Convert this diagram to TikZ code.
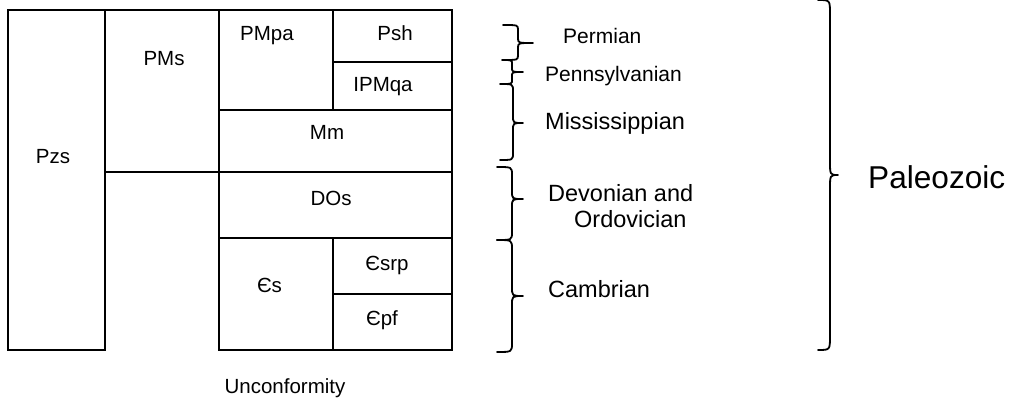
\documentclass[tikz,border=0pt]{standalone}
\usepackage{fontspec}
\setmainfont{Liberation Sans}
\tikzset{
  cellline/.style={line width=2.1pt, line join=miter},
  braceline/.style={line width=1.8pt, line cap=round, line join=round},
  celltext/.style={inner sep=0pt, anchor=base, font=\fontsize{20.5}{24}\selectfont},
  periodsmall/.style={inner sep=0pt, anchor=base west, font=\fontsize{21}{25}\selectfont},
  periodlarge/.style={inner sep=0pt, anchor=base west, font=\fontsize{23.5}{28}\selectfont},
  eratext/.style={inner sep=0pt, anchor=base west, font=\fontsize{31.6}{36}\selectfont},
}
% right-facing curly brace: #1 x of the ends, #2 top y, #3 bottom y,
% #4 y of the tip, #5 x of the spine, #6 x of the tip, #7 curl radius
\newcommand\curlyright[7]{%
  \draw[braceline] (#1,#2) .. controls (#5,#2) .. (#5,{#2+#7})
    -- (#5,{#4-#7}) .. controls (#5,#4) .. (#6,#4)
    .. controls (#5,#4) .. (#5,{#4+#7})
    -- (#5,{#3-#7}) .. controls (#5,#3) .. (#1,#3);}
\begin{document}
\begin{tikzpicture}[x=1pt, y=-1pt]
\useasboundingbox (0,0) rectangle (1013,401);

% stratigraphic column
\draw[cellline] (8,10) rectangle (105,350);
\draw[cellline] (105,10) rectangle (219,172);
\draw[cellline] (219,10) rectangle (333,110);
\draw[cellline] (333,10) rectangle (452,62);
\draw[cellline] (333,62) rectangle (452,110);
\draw[cellline] (219,110) rectangle (452,172);
\draw[cellline] (219,172) rectangle (452,238);
\draw[cellline] (219,238) rectangle (333,350);
\draw[cellline] (333,238) rectangle (452,294);
\draw[cellline] (333,294) rectangle (452,350);

\node[celltext] (pzs)   at (53,164)  {Pzs};
\node[celltext] (pms)   at (164,66)  {PMs};
\node[celltext] (pmpa)  at (267,41)  {PMpa};
\node[celltext] (psh)   at (395,41)  {Psh};
\node[celltext] (ipmqa) at (383,92)  {IPMqa};
\node[celltext] (mm)    at (327,140) {Mm};
\node[celltext] (dos)   at (331,206) {DOs};
\node[celltext] (cs)    at (269.5,292) {Єs};
\node[celltext] (csrp)  at (387,270) {Єsrp};
\node[celltext] (cpf)   at (382,325) {Єpf};
\node[celltext] (unconf) at (285,393) {Unconformity};

% period braces
\curlyright{503}{25}{60}{43}{518}{533}{5}
\curlyright{502}{60}{84}{72}{512}{523}{4}
\curlyright{500}{84}{160}{123}{513}{523}{7}
\curlyright{497}{167}{240}{199}{512}{523}{8}
\curlyright{497}{240}{352}{296}{512}{523}{9}

\node[periodsmall] (perm)  at (563,44)  {Permian};
\node[periodsmall] (penn)  at (545,82)  {Pennsylvanian};
\node[periodlarge] (miss)  at (545,130) {Mississippian};
\node[periodlarge] (devo)  at (548,201) {Devonian and};
\node[periodlarge] (ordo)  at (574,228) {Ordovician};
\node[periodlarge] (camb)  at (548,297) {Cambrian};

% era brace
\curlyright{818}{0}{350}{175}{830}{838}{14}
\node[eratext] (paleo) at (868,189) {Paleozoic};
\end{tikzpicture}
\end{document}
